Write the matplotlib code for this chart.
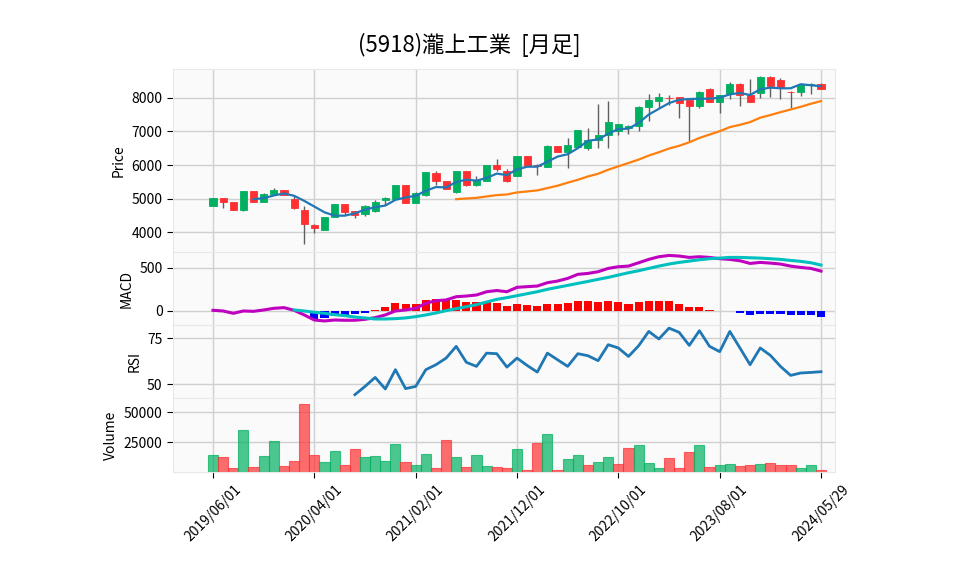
import matplotlib
matplotlib.use("Agg")
import matplotlib.pyplot as plt
import numpy as np

plt.rcParams["font.family"] = ["Noto Sans CJK JP", "DejaVu Sans"]

nan = np.nan

# monthly bars, 2019/06 .. 2024/05/29
tick_pos = [0, 10, 20, 30, 40, 50, 60]
tick_labels = ["2019/06/01", "2020/04/01", "2021/02/01", "2021/12/01",
               "2022/10/01", "2023/08/01", "2024/05/29"]

opens = [4780, 5010, 4900, 4665, 5230, 4905, 5150, 5250, 4980, 4665,
         4220, 4080, 4450, 4845, 4635, 4540, 4620, 4950, 4985, 5415,
         4885, 5100, 5770, 5530, 5210, 5830, 5395, 5530, 6010, 5830,
         5665, 6270, 6010, 5940, 6570, 6380, 6550, 6500, 6740, 6880,
         7000, 7110, 7150, 7730, 7900, 8000, 8010, 7920, 7750, 8250,
         7870, 8100, 8420, 8070, 8150, 8630, 8520, 8180, 8180, 8370, 8420]
closes = [5010, 4890, 4665, 5230, 4915, 5135, 5260, 5110, 4720, 4255,
          4140, 4450, 4845, 4615, 4515, 4770, 4905, 5005, 5415, 4885,
          5165, 5780, 5510, 5295, 5830, 5395, 5560, 6010, 5890, 5510,
          6270, 5985, 5960, 6570, 6380, 6600, 7050, 6750, 6900, 7280,
          7220, 7170, 7730, 7920, 8010, 7980, 7850, 7750, 8180, 7870,
          8070, 8420, 8080, 7870, 8630, 8350, 8300, 8170, 8370, 8420, 8270]
highs = [5020, 5015, 4900, 5235, 5235, 5175, 5310, 5260, 5080, 4775,
         4240, 4455, 4850, 4850, 4640, 4815, 4965, 5060, 5420, 5415,
         5210, 5790, 5810, 5535, 5835, 5835, 5660, 6015, 6180, 5885,
         6275, 6275, 6020, 6580, 6575, 6800, 7055, 7100, 7800, 7900,
         7230, 7200, 7740, 8100, 8130, 8090, 8020, 7930, 8190, 8280,
         8080, 8480, 8430, 8550, 8640, 8640, 8580, 8200, 8380, 8430, 8430]
lows = [4770, 4735, 4660, 4645, 4910, 4890, 5140, 5100, 4705, 3650,
        3970, 4075, 4445, 4500, 4415, 4480, 4600, 4800, 4980, 4870,
        4870, 5090, 5410, 5290, 5165, 5370, 5390, 5525, 5830, 5500,
        5660, 5980, 5700, 5930, 6375, 5920, 6540, 6450, 6500, 6500,
        6890, 6930, 7000, 7320, 7690, 7780, 7400, 6720, 7700, 7860,
        7550, 7970, 7750, 7860, 8000, 8030, 7970, 7680, 8050, 8100, 8260]
volumes = [13900, 12200, 3000, 34700, 3900, 13000, 25600, 4700, 8900, 56400,
           13900, 8100, 17200, 5600, 18900, 12200, 13000, 8900, 23100, 8100,
           5600, 14700, 3000, 26400, 12200, 3900, 13900, 4700, 3900, 3000,
           18900, 1400, 24400, 31400, 1400, 10600, 13900, 5600, 8100, 12200,
           6400, 19700, 22200, 7200, 3000, 11400, 3000, 16400, 22200, 3900,
           5600, 6400, 4700, 5600, 6400, 7200, 5600, 5600, 3000, 5600, 1400]

ma5 = [nan] * 4 + [4985, 5015, 5095, 5155, 5085, 4935, 4765, 4595, 4495, 4495,
                   4565, 4675, 4745, 4795, 4965, 5035, 5085, 5235, 5345, 5335,
                   5495, 5565, 5535, 5615, 5745, 5700, 5870, 5950, 5950, 6100,
                   6250, 6320, 6500, 6720, 6760, 6930, 7070, 7080, 7250, 7500,
                   7670, 7840, 7940, 7960, 7970, 7970, 8000, 8100, 8140, 8080,
                   8250, 8300, 8280, 8280, 8400, 8370, 8340]
ma25 = [nan] * 24 + [4985, 5005, 5025, 5065, 5105, 5125, 5185, 5215, 5245, 5315,
                     5385, 5475, 5560, 5660, 5740, 5860, 5960, 6060, 6160, 6280,
                     6380, 6490, 6570, 6675, 6805, 6905, 7005, 7125, 7195, 7275,
                     7405, 7485, 7570, 7650, 7730, 7820, 7900]

macd = [8, 0, -27, 0, -4, 12, 31, 39, 8, -46,
        -105, -116, -105, -108, -108, -97, -77, -46, 0, 12,
        31, 89, 120, 128, 166, 174, 186, 224, 238, 224,
        275, 283, 290, 329, 348, 379, 426, 437, 457, 495,
        515, 522, 561, 600, 631, 646, 639, 623, 631, 623,
        608, 600, 584, 553, 565, 557, 546, 522, 507, 495, 464]
signal = [nan] * 8 + [12, 0, -15, -27, -43, -54, -70, -81, -93, -93,
                      -89, -81, -66, -46, -23, 4, 27, 50, 74, 104,
                      135, 155, 178, 201, 224, 252, 275, 298, 321, 344,
                      368, 391, 418, 445, 468, 495, 522, 546, 565, 580,
                      596, 608, 615, 623, 623, 619, 615, 608, 600, 588,
                      577, 561, 534]
hist = [nan] * 8 + [0, -10, -90, -85, -62, -55, -40, -18, 12, 43,
                    89, 81, 81, 128, 135, 128, 128, 100, 100, 100,
                    97, 58, 81, 70, 58, 81, 81, 97, 116, 116,
                    108, 116, 104, 81, 104, 116, 116, 116, 81, 50,
                    46, 12, -5, -2, -19, -50, -31, -31, -31, -50,
                    -50, -50, -66]
rsi = [nan] * 14 + [44.2, 48.7, 53.6, 47.3, 57.8, 47.5, 48.7, 57.8, 60.5, 64.1,
                    70.5, 61.8, 59.6, 66.8, 66.5, 59.2, 64.1, 60.1, 56.5, 66.8,
                    63.2, 59.6, 66.5, 65.4, 62.7, 71.4, 69.6, 65.0, 70.8, 78.6,
                    74.5, 80.4, 78.1, 71.0, 79.0, 70.5, 67.6, 78.6, 69.6, 60.5,
                    69.6, 65.6, 59.6, 54.7, 56.0, 56.3, 56.7]

up_color = "#00b060"
down_color = "#fe3032"
wick_color = "#606060"
bg = "#fafafa"
grid_color = "#d0d0d0"

x = np.arange(len(closes))
o = np.array(opens)
c = np.array(closes)

fig = plt.figure(figsize=(9.58, 5.75), dpi=100)
left, width = 173 / 958, (835 - 173) / 958
ax_p = fig.add_axes([left, 1 - 252 / 575, width, 183 / 575])
ax_m = fig.add_axes([left, 1 - 325 / 575, width, 73 / 575], sharex=ax_p)
ax_r = fig.add_axes([left, 1 - 398 / 575, width, 73 / 575], sharex=ax_p)
ax_v = fig.add_axes([left, 1 - 472 / 575, width, 74 / 575], sharex=ax_p)
axes = [ax_p, ax_m, ax_r, ax_v]

for ax in axes:
    ax.set_facecolor(bg)
    ax.grid(True, color=grid_color, lw=1, zorder=0)
    ax.set_axisbelow(True)
    for sp in ax.spines.values():
        sp.set_color("#e8e8e8")
    ax.tick_params("y", labelsize=10, length=4, color="black")
    ax.tick_params("x", labelbottom=False, bottom=False)

# candles
cand_colors = [up_color if cc >= oo else down_color for oo, cc in zip(opens, closes)]
ax_p.vlines(x, lows, highs, color=wick_color, lw=1, zorder=2)
body_h = np.maximum(np.abs(c - o), 12)
ax_p.bar(x, body_h, bottom=np.minimum(o, c), width=0.7,
         color=cand_colors, edgecolor=cand_colors, lw=0.6, zorder=3)
ax_p.plot(x, ma5, color="tab:blue", lw=1.6, zorder=4)
ax_p.plot(x, ma25, color="tab:orange", lw=1.6, zorder=4)
ax_p.set_ylim(3415, 8853)
ax_p.set_yticks([4000, 5000, 6000, 7000, 8000])
ax_p.set_ylabel("Price", fontsize=10)

# MACD
h = np.array(hist, dtype=float)
hist_colors = ["red" if v >= 0 else "blue" for v in np.nan_to_num(h)]
ax_m.bar(x, np.nan_to_num(h), width=0.8, color=hist_colors, zorder=2)
ax_m.plot(x, macd, color="m", lw=2.2, zorder=3)
ax_m.plot(x, signal, color="c", lw=2.2, zorder=3)
ax_m.set_ylim(-163, 686)
ax_m.set_yticks([0, 500])
ax_m.set_ylabel("MACD", fontsize=10)

# RSI
ax_r.plot(x, rsi, color="tab:blue", lw=2, zorder=3)
ax_r.set_ylim(42.4, 82.1)
ax_r.set_yticks([50, 75])
ax_r.set_ylabel("RSI", fontsize=10)

# volume, coloured against the previous close
vol_colors = [up_color] + [up_color if closes[i] >= closes[i - 1] else down_color
                           for i in range(1, len(closes))]
ax_v.bar(x, volumes, width=1.0, color=vol_colors, alpha=0.7,
         edgecolor=vol_colors, lw=0.8, zorder=2)
ax_v.set_ylim(0, 61700)
ax_v.set_yticks([25000, 50000])
ax_v.set_ylabel("Volume", fontsize=10)

ax_v.set_xlim(-3.95, 61.38)
ax_v.set_xticks(tick_pos)
ax_v.set_xticklabels(tick_labels)
ax_v.tick_params("x", labelbottom=True, bottom=True, labelsize=10, length=4,
                 color="black", labelrotation=45)
for lab in ax_v.get_xticklabels():
    lab.set_ha("center")

fig.text(469 / 958, 1 - 45 / 575, "(5918)瀧上工業  [月足]", ha="center", va="center",
         fontsize=16)

fig.savefig("out.png", dpi=100, facecolor="white")
plt.close("all")
